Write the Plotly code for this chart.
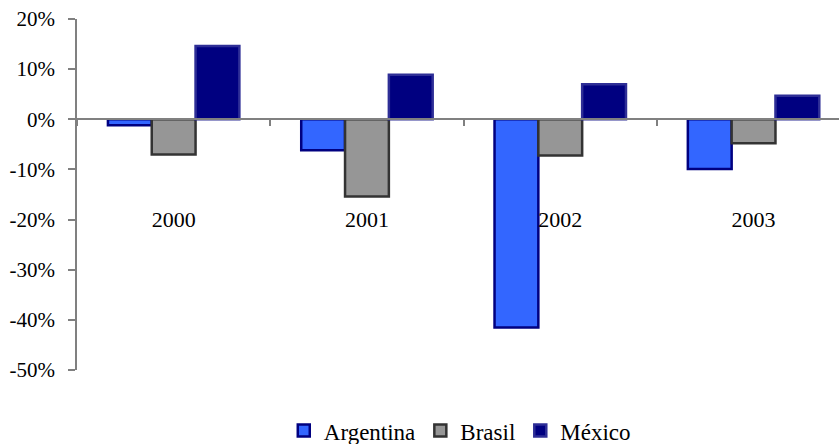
import plotly.graph_objects as go

years = ["2000", "2001", "2002", "2003"]
argentina = [-1.2, -6.2, -41.5, -9.9]
brasil = [-7.0, -15.4, -7.2, -4.8]
mexico = [14.6, 8.9, 7.0, 4.7]

y_ticks = [20, 10, 0, -10, -20, -30, -40, -50]
y_ticktext = ["20%", "10%", "0%", "-10%", "-20%", "-30%", "-40%", "-50%"]

FONT = "Liberation Serif"

fig = go.Figure()
fig.add_trace(go.Bar(name="Argentina", x=years, y=argentina,
                     marker=dict(color="#3366FF", line=dict(color="#000080", width=2.5))))
fig.add_trace(go.Bar(name="Brasil", x=years, y=brasil,
                     marker=dict(color="#969696", line=dict(color="#333333", width=2.5))))
fig.add_trace(go.Bar(name="México", x=years, y=mexico,
                     marker=dict(color="#000080", line=dict(color="#2E2E96", width=2.5))))

y_min, y_max = -50, 20
zero_pos = (0 - y_min) / (y_max - y_min)

fig.update_layout(
    width=839, height=444,
    margin=dict(l=77, r=0, t=18.5, b=74, pad=0, autoexpand=False),
    paper_bgcolor="white", plot_bgcolor="white",
    font=dict(family=FONT, size=21, color="black"),
    barmode="group", bargap=0.32, bargroupgap=0,
    showlegend=True,
    legend=dict(orientation="h", xref="container", yref="paper",
                x=0.548, xanchor="center", y=-0.1727, yanchor="middle",
                font=dict(family=FONT, size=23, color="black"),
                itemwidth=30, tracegroupgap=0, borderwidth=0),
    xaxis=dict(type="category", range=[-0.5, 3.442],
               anchor="free", position=zero_pos, automargin=False,
               showline=True, linecolor="#808080", linewidth=1.5,
               ticks="outside", tickson="boundaries", ticklen=6,
               tickcolor="#808080", tickwidth=1.5,
               showgrid=False, zeroline=False,
               ticklabelstandoff=81,
               tickfont=dict(family=FONT, size=22, color="black")),
    yaxis=dict(range=[y_min, y_max], tickvals=y_ticks, ticktext=y_ticktext,
               automargin=False,
               showline=True, linecolor="#808080", linewidth=1.5,
               ticks="outside", ticklen=7, tickcolor="#808080", tickwidth=1.5,
               showgrid=False, zeroline=False,
               ticklabelstandoff=9,
               tickfont=dict(family=FONT, size=21, color="black")),
)

fig.write_html("out.html", config={"displayModeBar": False},
               post_script="document.body.style.margin='0';")
